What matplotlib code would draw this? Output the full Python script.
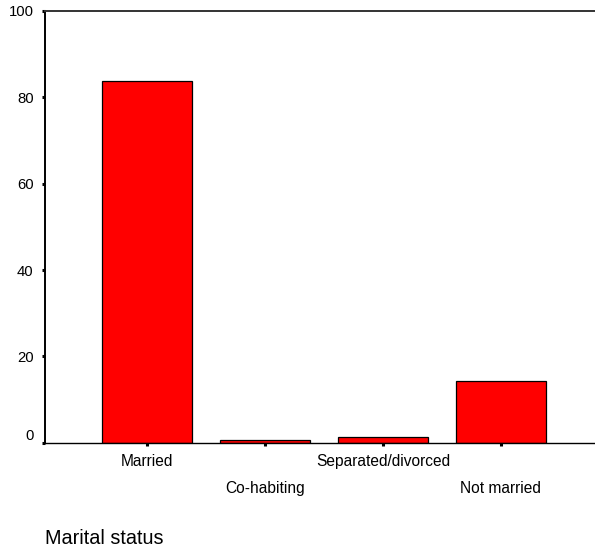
import matplotlib
matplotlib.use("Agg")
import matplotlib.pyplot as plt
from matplotlib.transforms import ScaledTranslation

categories = ["Married", "Co-habiting", "Separated/divorced", "Not married"]
values = [83.8, 0.6, 1.4, 14.4]
yticks = [0, 20, 40, 60, 80, 100]
xlabel = "Marital status"

plt.rcParams['font.family'] = ['Liberation Sans', 'DejaVu Sans']

W, H = 595, 550
fig = plt.figure(figsize=(W / 100, H / 100), dpi=100)
ax = fig.add_axes([45 / W, (H - 442.7) / H, 557.9 / W, 431.7 / H])

x = list(range(len(categories)))
ax.bar(x, values, width=0.765, color="#ff0000", edgecolor="black", linewidth=0.9, zorder=2)

ax.set_xlim(-0.868, 3.868)
ax.set_ylim(0, 100)
ax.set_yticks(yticks)
ax.set_yticklabels([str(v) for v in yticks], fontsize=10.7)
ax.set_xticks(x)
ax.set_xticklabels(categories, fontsize=11.2)

ax.tick_params(axis='both', direction='out', length=2.2, width=2.2, color='black')
ax.tick_params(axis='y', pad=6)
ax.tick_params(axis='x', pad=6)

for side in ['left', 'bottom']:
    ax.spines[side].set_color('black')
ax.spines['left'].set_linewidth(1.4)
ax.spines['bottom'].set_linewidth(1.0)
ax.spines['top'].set_color('#333333')
ax.spines['top'].set_linewidth(1.4)
ax.spines['right'].set_visible(False)

# stagger alternate x labels
for i, t in enumerate(ax.get_xticklabels()):
    if i % 2 == 1:
        t.set_transform(t.get_transform() + ScaledTranslation(0, -27 / 100, fig.dpi_scale_trans))

# lift the "0" label above the baseline
ax.get_yticklabels()[0].set_va('bottom')

fig.text(45 / W, 1 - 539 / H, xlabel, fontsize=14.3, va='center', ha='left')

fig.savefig("out.png", dpi=100)
